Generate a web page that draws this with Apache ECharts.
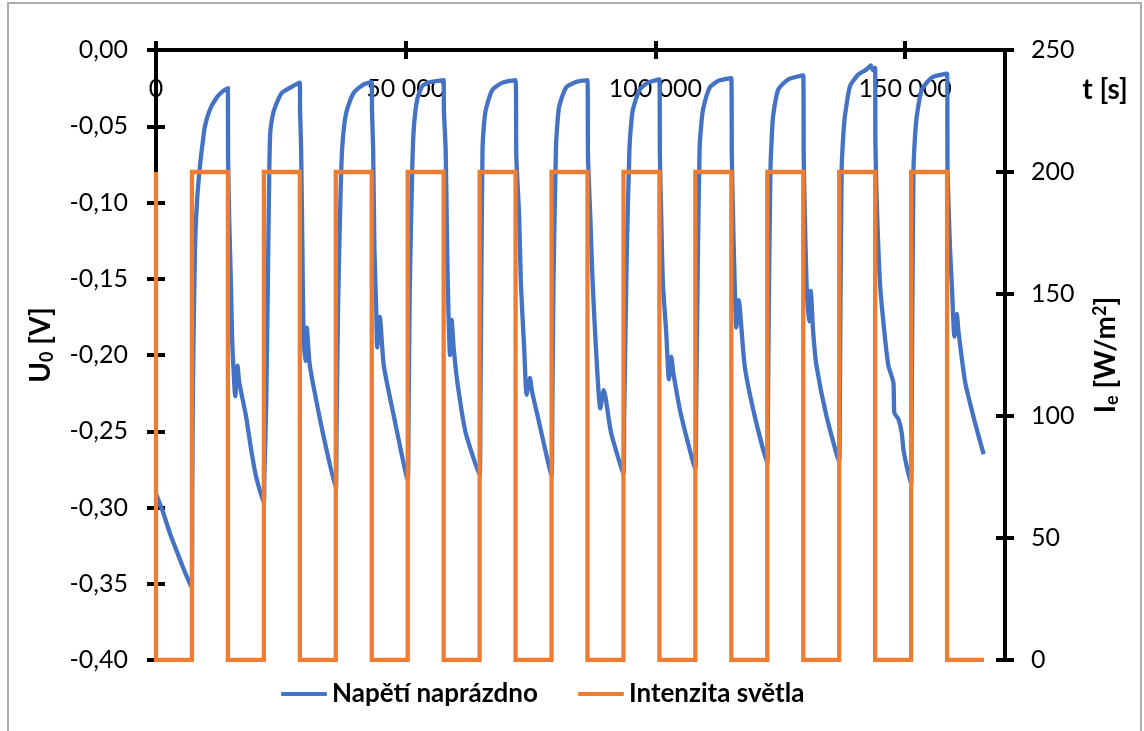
<!DOCTYPE html>
<html><head><meta charset="utf-8">
<script src="https://cdn.jsdelivr.net/npm/echarts@6/dist/echarts.min.js"></script>
<style>html,body{margin:0;padding:0;background:#fff}#c{width:1144px;height:731px}</style>
</head><body><div id="c"></div>
<script>
const seriesNames = ['Napětí naprázdno', 'Intenzita světla'];
const xTicks = [0, 50000, 100000, 150000];
const xMax = 170000;
const uRange = [-0.4, 0, 0.05];
const ieRange = [0, 250, 50];
const xTitle = 't [s]';
const uTitle = [['U', 'n'], ['0', 'sub'], [' [V]', 'n']];
const ieTitle = [['I', 'n'], ['e', 'sub'], [' [W/m', 'n'], ['2', 'sup'], [']', 'n']];

// [t (s), U0 (V)]
const napeti = [
  [0,-0.291],[1400,-0.303],[2800,-0.317],[4200,-0.329],[5500,-0.340],[6800,-0.350],[7200,-0.352],
  [7250,-0.30],[7400,-0.22],[7800,-0.131],[8200,-0.10],[8800,-0.076],[9300,-0.062],[9800,-0.050],[10800,-0.039],[12200,-0.031],[13400,-0.027],[14400,-0.025],
  [14430,-0.070],[14650,-0.110],[15000,-0.153],[15250,-0.190],[15450,-0.205],[15870,-0.227],[16330,-0.207],[16670,-0.218],[18020,-0.240],[19000,-0.261],[20050,-0.280],[21600,-0.297],
  [21700,-0.280],[22080,-0.230],[22480,-0.131],[22680,-0.080],[22880,-0.054],[23300,-0.044],[23890,-0.037],[25230,-0.028],[27240,-0.024],[28800,-0.0214],
  [28850,-0.040],[29060,-0.065],[29320,-0.131],[29520,-0.183],[29860,-0.204],[30190,-0.182],[30730,-0.205],[31390,-0.218],[33400,-0.251],[36000,-0.288],
  [36150,-0.250],[36450,-0.170],[36925,-0.098],[37270,-0.065],[37700,-0.049],[38270,-0.039],[39600,-0.028],[41600,-0.0225],[43200,-0.0210],
  [43250,-0.040],[43480,-0.065],[43740,-0.131],[44100,-0.170],[44280,-0.195],[44810,-0.175],[45610,-0.207],[47620,-0.240],[50400,-0.282],
  [50550,-0.250],[50800,-0.160],[51320,-0.076],[51650,-0.050],[52330,-0.032],[53330,-0.0236],[55000,-0.0210],[57600,-0.0197],
  [57650,-0.040],[58000,-0.065],[58300,-0.131],[58600,-0.177],[58870,-0.200],[59210,-0.177],[59600,-0.195],[60350,-0.218],[62010,-0.251],[64800,-0.279],
  [64950,-0.240],[65150,-0.150],[65380,-0.065],[65700,-0.048],[66050,-0.039],[67390,-0.026],[69400,-0.0214],[72000,-0.0197],
  [72150,-0.070],[72720,-0.109],[73060,-0.153],[73730,-0.196],[74210,-0.226],[74870,-0.215],[75300,-0.224],[76415,-0.240],[79200,-0.279],
  [79350,-0.240],[79600,-0.150],[80080,-0.065],[80400,-0.047],[80750,-0.0367],[82090,-0.0247],[84100,-0.0210],[86400,-0.0197],
  [86500,-0.070],[86960,-0.109],[87440,-0.153],[88100,-0.196],[88970,-0.235],[89650,-0.223],[91120,-0.251],[93600,-0.278],
  [93750,-0.240],[94280,-0.131],[94800,-0.065],[95100,-0.050],[95490,-0.039],[96830,-0.026],[98500,-0.0214],[100800,-0.0192],
  [100900,-0.070],[101160,-0.109],[101500,-0.153],[102160,-0.185],[102700,-0.216],[103170,-0.201],[103600,-0.212],[105180,-0.240],[108000,-0.275],
  [108150,-0.240],[108520,-0.131],[108850,-0.065],[109150,-0.050],[109530,-0.039],[110850,-0.0247],[112540,-0.0203],[115200,-0.0185],
  [115300,-0.070],[115540,-0.109],[115870,-0.153],[116200,-0.182],[116670,-0.164],[117870,-0.207],[119880,-0.240],[122400,-0.271],
  [122500,-0.250],[122700,-0.170],[123040,-0.078],[123300,-0.057],[123580,-0.043],[124590,-0.026],[126600,-0.0192],[129600,-0.0166],
  [129700,-0.070],[129920,-0.109],[130260,-0.153],[130700,-0.178],[131100,-0.158],[131590,-0.185],[132250,-0.207],[134250,-0.240],[136800,-0.270],
  [136900,-0.250],[137050,-0.170],[137300,-0.078],[137600,-0.057],[137960,-0.043],[138970,-0.0236],[140650,-0.0160],[142320,-0.0127],[142660,-0.0115],[143120,-0.0101],[143520,-0.0131],[144000,-0.0118],
  [144050,-0.060],[144300,-0.098],[144970,-0.153],[145850,-0.185],[146650,-0.207],[147650,-0.218],[147850,-0.238],[148650,-0.242],[149320,-0.251],[149660,-0.262],[150320,-0.273],[151200,-0.285],
  [151300,-0.250],[151450,-0.170],[151680,-0.078],[151980,-0.057],[152350,-0.043],[153350,-0.026],[155350,-0.018],[158400,-0.0155],
  [158500,-0.080],[159000,-0.131],[159340,-0.153],[159880,-0.188],[160350,-0.173],[160700,-0.185],[162030,-0.218],[164040,-0.245],[165720,-0.265]
];

// [t (s), Ie (W/m2)]
const intenzita = [
  [0,200],[0,0],[7200,0],[7200,200],[14400,200],[14400,0],[21600,0],[21600,200],[28800,200],[28800,0],
  [36000,0],[36000,200],[43200,200],[43200,0],[50400,0],[50400,200],[57600,200],[57600,0],[64800,0],[64800,200],
  [72000,200],[72000,0],[79200,0],[79200,200],[86400,200],[86400,0],[93600,0],[93600,200],[100800,200],[100800,0],
  [108000,0],[108000,200],[115200,200],[115200,0],[122400,0],[122400,200],[129600,200],[129600,0],[136800,0],[136800,200],
  [144000,200],[144000,0],[151200,0],[151200,200],[158400,200],[158400,0],[165800,0]
];

const FONT = 'Lato';
const BLUE = '#4472C4', ORANGE = '#ED7D31';
const axisLineStyle = {color: '#000', width: 4};
const labelStyle = {color: '#000', fontFamily: FONT, fontSize: 25};

const fmtX = v => String(v).replace(/\B(?=(\d{3})+(?!\d))/g, ' ');
const fmtU = v => v.toFixed(2).replace('.', ',');

function xAx(inside, showLabel) {
  return {
    type: 'value', position: 'top', min: 0, max: xMax,
    axisLine: {show: true, onZero: false, lineStyle: axisLineStyle},
    axisTick: {show: true, inside: inside, length: 9, lineStyle: axisLineStyle, customValues: xTicks},
    axisLabel: {show: showLabel, inside: true, margin: 26, customValues: xTicks, formatter: fmtX, ...labelStyle},
    splitLine: {show: false}
  };
}
function yAx(pos, rng, inside, showLabel, fmt, margin) {
  return {
    type: 'value', position: pos, min: rng[0], max: rng[1], interval: rng[2],
    axisLine: {show: true, onZero: false, lineStyle: axisLineStyle},
    axisTick: {show: true, inside: inside, length: 9, lineStyle: axisLineStyle},
    axisLabel: {show: showLabel, margin: margin, formatter: fmt, ...labelStyle},
    splitLine: {show: false}
  };
}

const FONTS = {n: 'bold 28px Lato', sub: 'bold 18px Lato', sup: 'bold 18px Lato'};
const DY = {n: 0, sub: 6, sup: -6};
const mctx = document.createElement('canvas').getContext('2d');
function rotatedTitle(cx, cy, parts) {
  const widths = parts.map(p => { mctx.font = FONTS[p[1]]; return mctx.measureText(p[0]).width; });
  const total = widths.reduce((a, b) => a + b, 0);
  let x = -total / 2;
  const children = parts.map((p, i) => {
    const el = {type: 'text', x: x, y: DY[p[1]],
      style: {text: p[0], font: FONTS[p[1]], fill: '#000', align: 'left', verticalAlign: 'middle'}};
    x += widths[i];
    return el;
  });
  return {type: 'group', x: cx, y: cy, rotation: Math.PI / 2, children: children};
}

const chart = echarts.init(document.getElementById('c'), null, {renderer: 'canvas'});
chart.setOption({
  animation: false,
  backgroundColor: '#fff',
  grid: {left: 156, right: 139, top: 50, bottom: 71, containLabel: false},
  xAxis: [xAx(false, true), xAx(true, false)],
  yAxis: [
    yAx('left', uRange, false, true, fmtU, 28),
    yAx('right', ieRange, false, true, v => String(v), 26),
    yAx('left', uRange, true, false, fmtU, 28),
    yAx('right', ieRange, true, false, v => String(v), 26)
  ],
  legend: {
    left: 276, top: 676, icon: 'roundRect', itemWidth: 46, itemHeight: 4, itemGap: 40,
    textStyle: {color: '#000', fontFamily: FONT, fontWeight: 'bold', fontSize: 26},
    data: seriesNames
  },
  series: [
    {name: seriesNames[0], type: 'line', xAxisIndex: 0, yAxisIndex: 0, data: napeti,
     showSymbol: false, symbol: 'none', smooth: 0.2,
     lineStyle: {color: BLUE, width: 4.3, join: 'round'}, itemStyle: {color: BLUE}},
    {name: seriesNames[1], type: 'line', xAxisIndex: 0, yAxisIndex: 1, data: intenzita,
     showSymbol: false, symbol: 'none',
     lineStyle: {color: ORANGE, width: 4.3, join: 'miter', cap: 'butt'}, itemStyle: {color: ORANGE}}
  ],
  graphic: [
    {type: 'rect', silent: true, z: -1, shape: {x: 8, y: 3, width: 1133, height: 745},
     style: {fill: 'none', stroke: '#ADADAD', lineWidth: 2}},
    {type: 'text', x: 1105, y: 90, style: {text: xTitle, font: FONTS.n, fill: '#000', align: 'center', verticalAlign: 'middle'}},
    rotatedTitle(41, 345, uTitle),
    rotatedTitle(1106, 355, ieTitle)
  ]
});
</script></body></html>
